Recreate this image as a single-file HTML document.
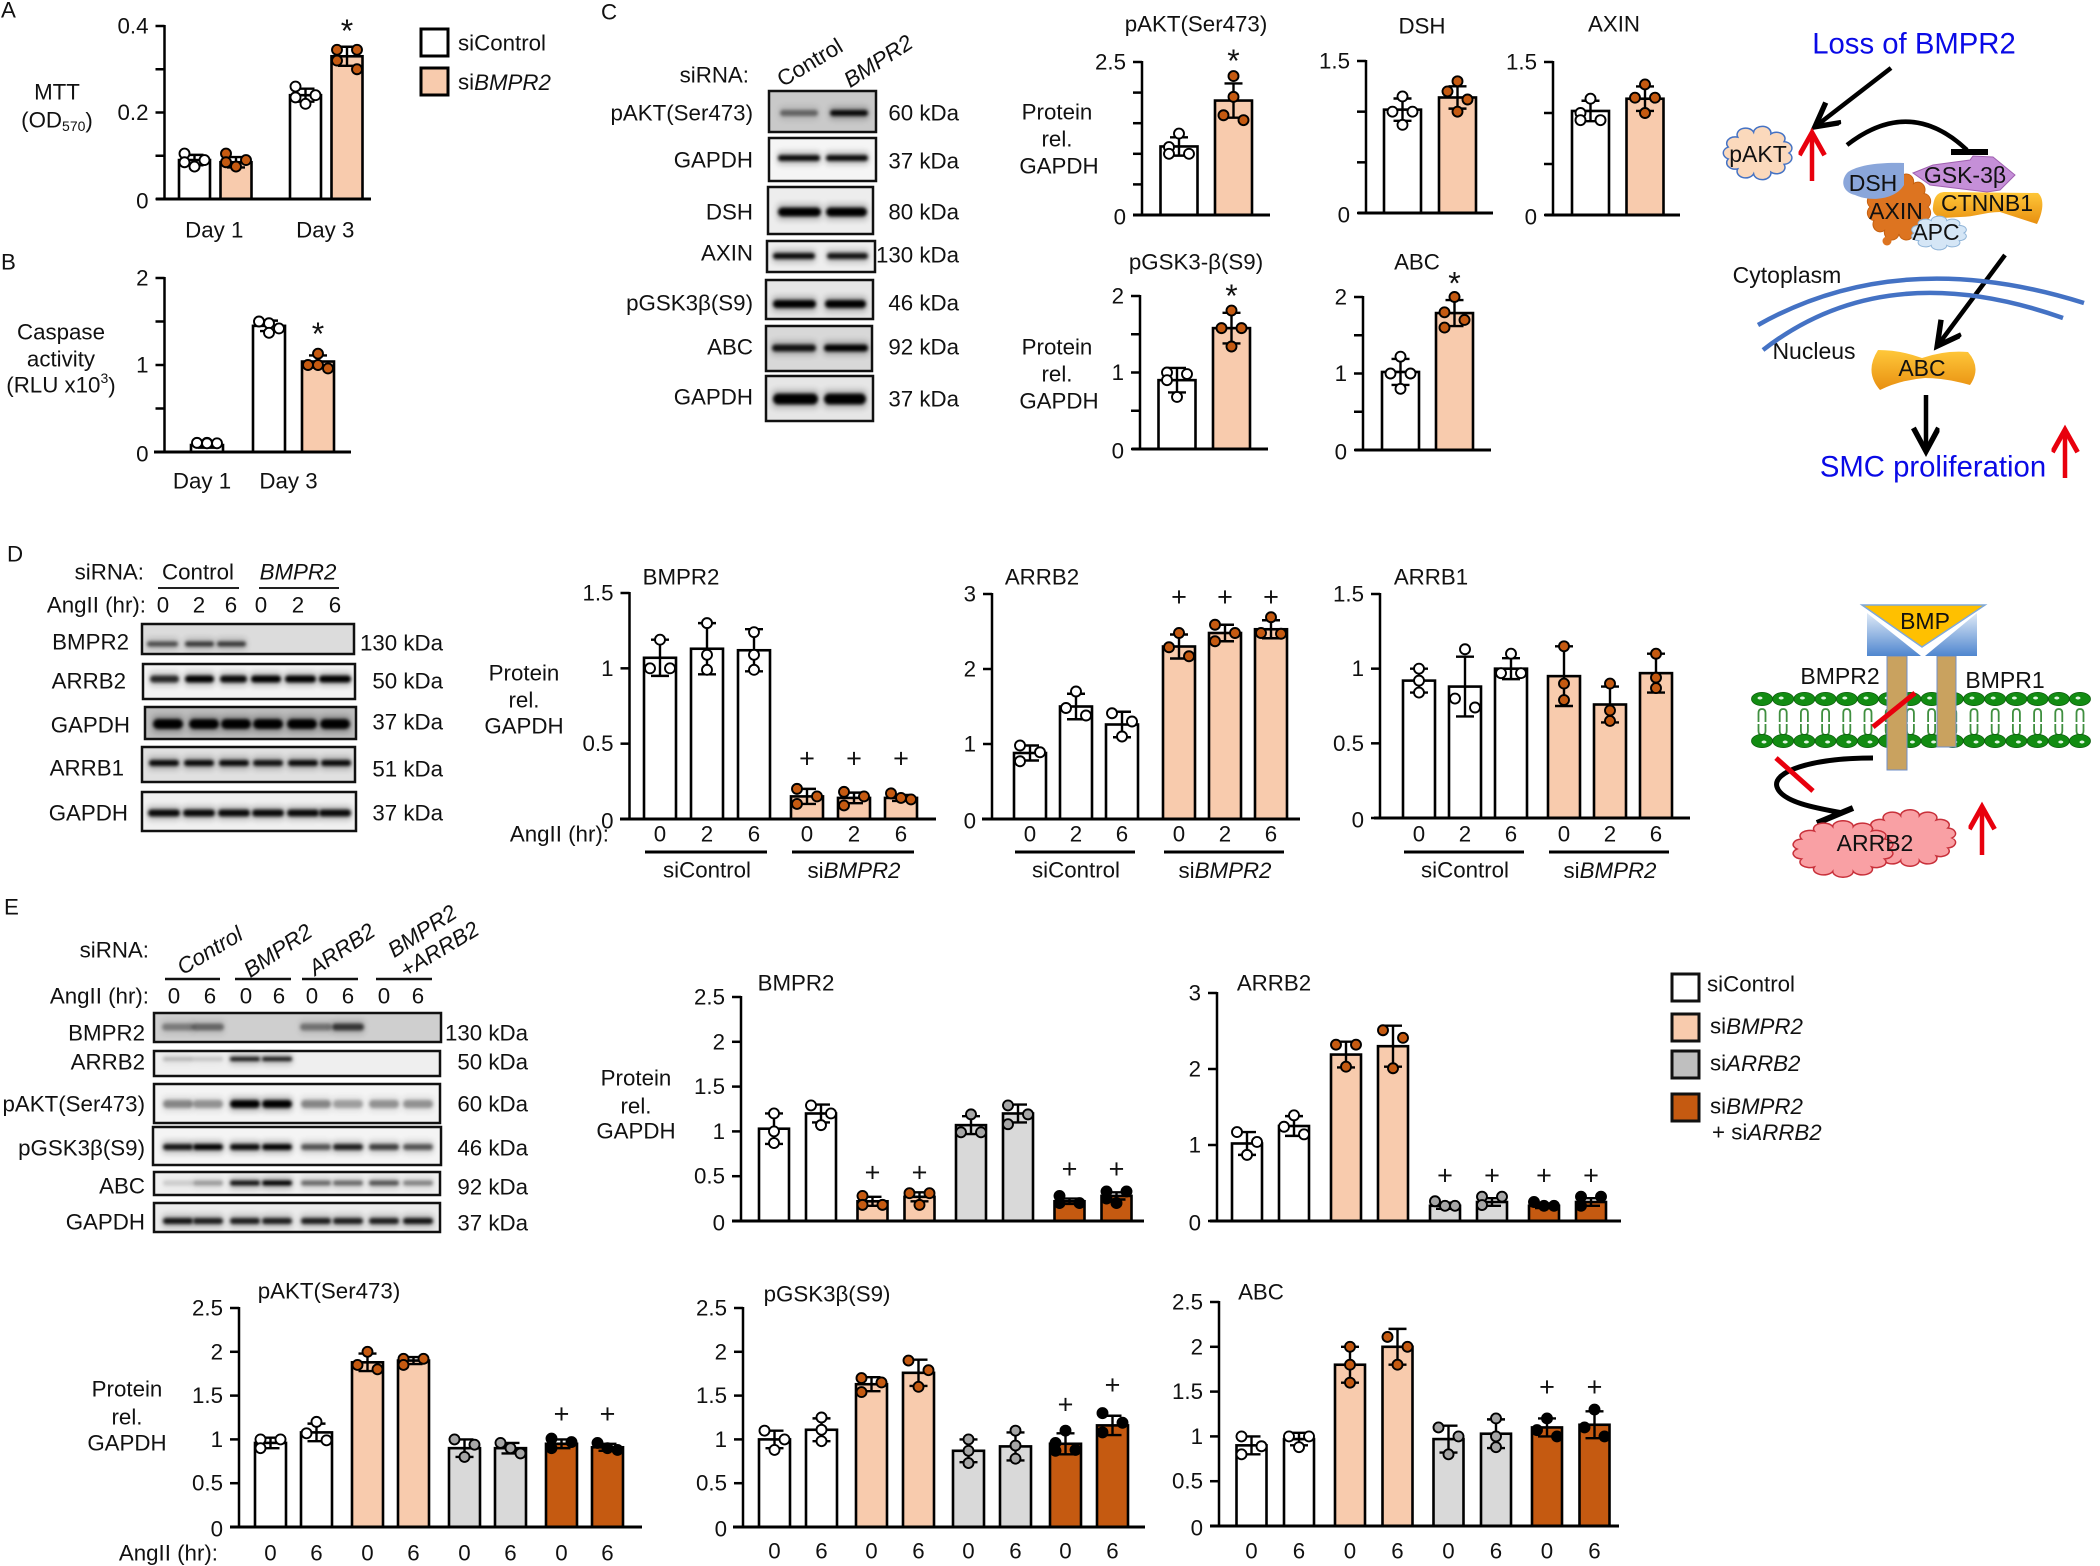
<!DOCTYPE html>
<html lang="en">
<head>
<meta charset="utf-8">
<title>BMPR2 multi-panel figure</title>
<style>
html,body{margin:0;padding:0;background:#fff;}
svg{display:block;}
text{font-family:"Liberation Sans",Arial,sans-serif;font-size:22.3px;fill:#111;dominant-baseline:central;}
.r{text-anchor:end;}
.c{text-anchor:middle;}
.i{font-style:italic;}
.blue{fill:#0a0ae6;font-size:29.3px;}
.d{font-size:23px;}
</style>
</head>
<body>
<svg id="fig" xmlns="http://www.w3.org/2000/svg" width="2100" height="1566" viewBox="0 0 2100 1566">
<defs>
<filter id="blur" x="-20%" y="-150%" width="140%" height="400%"><feGaussianBlur stdDeviation="1.5"></feGaussianBlur></filter>
<filter id="halo" x="-20%" y="-200%" width="140%" height="500%"><feGaussianBlur stdDeviation="3"></feGaussianBlur></filter>
<linearGradient id="gold" x1="0" y1="0" x2="0" y2="1"><stop offset="0" stop-color="#ffc83a"></stop><stop offset="1" stop-color="#e88f10"></stop></linearGradient>
<linearGradient id="bluebox" x1="0" y1="0" x2="0" y2="1"><stop offset="0" stop-color="#dfeaf7"></stop><stop offset="1" stop-color="#4f86cf"></stop></linearGradient>
<marker id="blackHead" markerWidth="7" markerHeight="7" refX="5.2" refY="3" orient="auto"><path d="M0.3,0.2 L5.5,3 L0.3,5.8" fill="none" stroke="#000" stroke-width="1.2"></path></marker>
<marker id="redHead" markerWidth="8" markerHeight="8" refX="5.2" refY="3" orient="auto"><path d="M0.5,0.2 L5.5,3 L0.5,5.8" fill="none" stroke="#e8000d" stroke-width="1.1"></path></marker>
</defs>

<g>
<text x="1" y="10">A</text>
<text x="1" y="262">B</text>
<text x="601" y="12">C</text>
<text x="7" y="554">D</text>
<text x="4" y="907">E</text>
</g>

<g>
<text class="c" x="57" y="92">MTT</text>
<text class="c" x="57" y="120">(OD<tspan font-size="14" dy="6">570</tspan><tspan dy="-6">)</tspan></text>
<rect x="421" y="29" width="27" height="27" fill="#fff" stroke="#000" stroke-width="3"></rect>
<rect x="421" y="68" width="27" height="27" fill="#f8cbad" stroke="#000" stroke-width="3"></rect>
<text x="458" y="43">siControl</text>
<text x="458" y="82">si<tspan class="i">BMPR2</tspan></text>
</g>

<g>
<text class="c" x="61" y="332">Caspase</text>
<text class="c" x="61" y="359">activity</text>
<text class="c" x="61" y="385">(RLU x10<tspan font-size="14" dy="-7">3</tspan><tspan dy="7">)</tspan></text>
</g>

<g id="blots"></g>

<g>
<text class="r" x="749" y="75">siRNA:</text>
<text x="779" y="81" transform="rotate(-31 779 81)">Control</text>
<text class="i" x="846" y="82" transform="rotate(-33 846 82)">BMPR2</text>
<text class="r" x="753" y="113">pAKT(Ser473)</text>
<text class="r" x="753" y="160">GAPDH</text>
<text class="r" x="753" y="212">DSH</text>
<text class="r" x="753" y="253">AXIN</text>
<text class="r" x="753" y="303">pGSK3β(S9)</text>
<text class="r" x="753" y="347">ABC</text>
<text class="r" x="753" y="397">GAPDH</text>
<text class="r" x="959" y="113">60 kDa</text>
<text class="r" x="959" y="161">37 kDa</text>
<text class="r" x="959" y="212">80 kDa</text>
<text class="r" x="959" y="255">130 kDa</text>
<text class="r" x="959" y="303">46 kDa</text>
<text class="r" x="959" y="347">92 kDa</text>
<text class="r" x="959" y="399">37 kDa</text>
<text class="c" x="1057" y="112">Protein</text>
<text class="c" x="1057" y="139">rel.</text>
<text class="c" x="1059" y="166">GAPDH</text>
<text class="c" x="1057" y="347">Protein</text>
<text class="c" x="1057" y="374">rel.</text>
<text class="c" x="1059" y="401">GAPDH</text>
</g>

<g>
<text class="r" x="144" y="572">siRNA:</text>
<text class="c" x="198" y="572">Control</text>
<text class="c i" x="298" y="572">BMPR2</text>
<line x1="158" y1="588" x2="239" y2="588" stroke="#222" stroke-width="2"></line>
<line x1="259" y1="588" x2="339" y2="588" stroke="#222" stroke-width="2"></line>
<text class="r" x="146" y="605">AngII (hr):</text>
<text class="c" x="163" y="605">0</text>
<text class="c" x="199" y="605">2</text>
<text class="c" x="231" y="605">6</text>
<text class="c" x="261" y="605">0</text>
<text class="c" x="298" y="605">2</text>
<text class="c" x="335" y="605">6</text>
<text class="r" x="129" y="642">BMPR2</text>
<text class="r" x="126" y="681">ARRB2</text>
<text class="r" x="130" y="725">GAPDH</text>
<text class="r" x="124" y="768">ARRB1</text>
<text class="r" x="128" y="813">GAPDH</text>
<text class="r" x="443" y="643">130 kDa</text>
<text class="r" x="443" y="681">50 kDa</text>
<text class="r" x="443" y="722">37 kDa</text>
<text class="r" x="443" y="769">51 kDa</text>
<text class="r" x="443" y="813">37 kDa</text>
<text class="c" x="524" y="673">Protein</text>
<text class="c" x="524" y="700">rel.</text>
<text class="c" x="524" y="726">GAPDH</text>
<text class="r" x="609" y="834">AngII (hr):</text>
</g>

<g>
<text class="r" x="149" y="950">siRNA:</text>
<text class="i" x="179" y="969" transform="rotate(-31 179 969)">Control</text>
<text class="i" x="246" y="972" transform="rotate(-34 246 972)">BMPR2</text>
<text class="i" x="311" y="970" transform="rotate(-34 311 970)">ARRB2</text>
<text class="i" x="390" y="952" transform="rotate(-33 390 952)">BMPR2</text>
<text class="i" x="402" y="972" transform="rotate(-31 402 972)">+ARRB2</text>
<line x1="165" y1="979" x2="220" y2="979" stroke="#111" stroke-width="2.5"></line>
<line x1="235" y1="979" x2="291" y2="979" stroke="#111" stroke-width="2.5"></line>
<line x1="302" y1="979" x2="358" y2="979" stroke="#111" stroke-width="2.5"></line>
<line x1="376" y1="979" x2="432" y2="979" stroke="#111" stroke-width="2.5"></line>
<text class="r" x="149" y="996">AngII (hr):</text>
<text class="c" x="174" y="996">0</text>
<text class="c" x="210" y="996">6</text>
<text class="c" x="246" y="996">0</text>
<text class="c" x="279" y="996">6</text>
<text class="c" x="312" y="996">0</text>
<text class="c" x="348" y="996">6</text>
<text class="c" x="384" y="996">0</text>
<text class="c" x="418" y="996">6</text>
<text class="r" x="145" y="1033">BMPR2</text>
<text class="r" x="145" y="1062">ARRB2</text>
<text class="r" x="145" y="1104">pAKT(Ser473)</text>
<text class="r" x="145" y="1148">pGSK3β(S9)</text>
<text class="r" x="145" y="1186">ABC</text>
<text class="r" x="145" y="1222">GAPDH</text>
<text class="r" x="528" y="1033">130 kDa</text>
<text class="r" x="528" y="1062">50 kDa</text>
<text class="r" x="528" y="1104">60 kDa</text>
<text class="r" x="528" y="1148">46 kDa</text>
<text class="r" x="528" y="1187">92 kDa</text>
<text class="r" x="528" y="1223">37 kDa</text>
<text class="c" x="636" y="1078">Protein</text>
<text class="c" x="636" y="1106">rel.</text>
<text class="c" x="636" y="1131">GAPDH</text>
<text class="c" x="127" y="1389">Protein</text>
<text class="c" x="127" y="1417">rel.</text>
<text class="c" x="127" y="1443">GAPDH</text>
<text class="r" x="218" y="1553">AngII (hr):</text>
</g>

<g>
<rect x="1672" y="974" width="27" height="27" fill="#fff" stroke="#111" stroke-width="3"></rect>
<rect x="1672" y="1014" width="27" height="27" fill="#f8cbad" stroke="#111" stroke-width="3"></rect>
<rect x="1672" y="1051" width="27" height="27" fill="#bfbfbf" stroke="#111" stroke-width="3"></rect>
<rect x="1672" y="1094" width="27" height="27" fill="#c55a11" stroke="#111" stroke-width="3"></rect>
<text x="1707" y="984">siControl</text>
<text x="1710" y="1026">si<tspan class="i">BMPR2</tspan></text>
<text x="1710" y="1063">si<tspan class="i">ARRB2</tspan></text>
<text x="1710" y="1106">si<tspan class="i">BMPR2</tspan></text>
<text x="1712" y="1132">+ si<tspan class="i">ARRB2</tspan></text>
</g>

<g id="charts"></g>

<g>
<text class="c blue" x="1914" y="44">Loss of BMPR2</text>
<line x1="1891" y1="68" x2="1816" y2="126" stroke="#000" stroke-width="4.5" marker-end="url(#blackHead)"></line>
<path id="paktCloud" fill="#fbd9bc" stroke="#4472c4" stroke-width="1.5"></path>
<text class="c d" x="1758" y="154">pAKT</text>
<line x1="1812" y1="181" x2="1812" y2="134" stroke="#e8000d" stroke-width="4.5" marker-end="url(#redHead)"></line>
<path d="M1847,145 Q1910,96 1967,150" fill="none" stroke="#000" stroke-width="4.5"></path>
<line x1="1951" y1="152" x2="1988" y2="152" stroke="#000" stroke-width="6"></line>
<path id="axinCloud" fill="#dd7420" stroke="#c5600f" stroke-width="1"></path>
<circle cx="1887" cy="241" r="4.5" fill="#dd7420"></circle>
<path d="M1904,163 C1880,162 1858,165 1848,172 C1840,180 1842,192 1855,195 C1870,202 1895,200 1904,185 Z" fill="#8aa6da"></path>
<path d="M1913,173 L1933,165 L1970,160 L1973,156 L1993,157 L2015,175 L2000,190 L1987,192 L1930,185 Z" fill="#c58fd8" stroke="#a060b0" stroke-width="1"></path>
<path d="M1933,207 C1934,196 1938,192 1945,192 L2038,193 C2044,198 2044,210 2037,224 L2000,212 C1985,212 1975,217 1960,217 L1942,218 C1935,216 1932,212 1933,207 Z" fill="url(#gold)"></path>
<path id="apcCloud" fill="#d5e6f6" stroke="#8fb4d8" stroke-width="1"></path>
<text class="c d" x="1873" y="183">DSH</text>
<text class="c d" x="1965" y="175">GSK-3β</text>
<text class="c d" x="1896" y="211">AXIN</text>
<text class="c d" x="1987" y="203">CTNNB1</text>
<text class="c d" x="1936" y="232">APC</text>
<line x1="2005" y1="255" x2="1938" y2="345" stroke="#000" stroke-width="4.5" marker-end="url(#blackHead)"></line>
<text class="c d" x="1787" y="275">Cytoplasm</text>
<text class="c d" x="1814" y="351">Nucleus</text>
<path d="M1758,325 Q1900,245 2084,303" fill="none" stroke="#4472c4" stroke-width="4.5"></path>
<path d="M1763,350 Q1885,255 2063,318" fill="none" stroke="#4472c4" stroke-width="4.5"></path>
<path d="M1878,350 Q1900,350 1922,358 Q1945,350 1968,352 Q1982,368 1970,385 Q1945,378 1925,378 Q1900,380 1880,390 Q1864,372 1878,350 Z" fill="url(#gold)"></path>
<text class="c d" x="1922" y="368">ABC</text>
<line x1="1926" y1="395" x2="1926" y2="450" stroke="#000" stroke-width="4.5" marker-end="url(#blackHead)"></line>
<text class="c blue" x="1933" y="467">SMC proliferation</text>
<line x1="2065" y1="478" x2="2065" y2="431" stroke="#e8000d" stroke-width="4.5" marker-end="url(#redHead)"></line>
</g>

<g>
<g id="membrane"></g>
<rect x="1887" y="656" width="20" height="114" fill="#c9a25f" stroke="#6f8fc8" stroke-width="1"></rect>
<rect x="1937" y="656" width="19" height="91" fill="#c9a25f" stroke="#6f8fc8" stroke-width="1"></rect>
<polygon points="1867,613 1867,656 1921,656" fill="url(#bluebox)"></polygon>
<polygon points="1977,613 1977,656 1925,656" fill="url(#bluebox)"></polygon>
<polygon points="1862,605 1985,605 1922,647" fill="#ffc000" stroke="#7fa8d8" stroke-width="1.5"></polygon>
<text class="c d" x="1925" y="621">BMP</text>
<text class="c d" x="1840" y="676">BMPR2</text>
<text class="c d" x="2005" y="680">BMPR1</text>
<line x1="1873" y1="727" x2="1915" y2="693" stroke="#e8000d" stroke-width="5"></line>
<path d="M1873,758 C1810,758 1772,772 1777,787 C1782,802 1815,808 1843,813" fill="none" stroke="#000" stroke-width="5"></path>
<line x1="1817" y1="823" x2="1853" y2="808" stroke="#000" stroke-width="6"></line>
<line x1="1776" y1="758" x2="1813" y2="791" stroke="#e8000d" stroke-width="5"></line>
<path id="arrbCloudB" fill="#f9a0a4" stroke="#c8303a" stroke-width="1.5"></path>
<path id="arrbCloudA" fill="#f9a0a4" stroke="#c8303a" stroke-width="1.5"></path>
<text class="c d" x="1875" y="843">ARRB2</text>
<line x1="1982" y1="855" x2="1982" y2="808" stroke="#e8000d" stroke-width="4.5" marker-end="url(#redHead)"></line>
</g>

<script>
/* ---------- chart data ---------- */
const series2 = ['siControl', 'siBMPR2'];
const seriesA = ['siControl', 'siBMPR2', 'siControl', 'siBMPR2'];
const seriesB = ['siControl', 'siControl', 'siBMPR2'];
const series6 = ['siControl', 'siControl', 'siControl', 'siBMPR2', 'siBMPR2', 'siBMPR2'];
const series8 = ['siControl', 'siControl', 'siBMPR2', 'siBMPR2', 'siARRB2', 'siARRB2', 'combo', 'combo'];
const hours3 = ['0', '2', '6', '0', '2', '6'];
const hours2 = ['0', '6', '0', '6', '0', '6', '0', '6'];
const dayLabels = ['Day 1', 'Day 3'];
const dGroupLabels = ['siControl', 'siBMPR2'];

const aTicks = [0, 0.1, 0.2, 0.3, 0.4];
const aTickLabels = ['0', '', '0.2', '', '0.4'];
const aValues = [0.09, 0.085, 0.24, 0.33];
const aErrors = [0.012, 0.012, 0.015, 0.022];
const aPoints = [[0.075, 0.085, 0.09, 0.105], [0.075, 0.085, 0.09, 0.105], [0.22, 0.235, 0.24, 0.26], [0.3, 0.32, 0.345, 0.345]];
const aMarks = ['', '', '', '*'];
const aMarkLevels = [0, 0, 0, 0.398];

const bTicks = [0, 0.5, 1, 1.5, 2];
const bTickLabels = ['0', '', '1', '', '2'];
const bValues = [0.08, 1.45, 1.04];
const bErrors = [0.03, 0.06, 0.07];
const bPoints = [[0.1, 0.1, 0.105, 0.105], [1.37, 1.42, 1.48, 1.5], [0.96, 1.0, 1.0, 1.13]];
const bMarks = ['', '', '*'];
const bMarkLevels = [0, 0, 1.4];

const ticks25 = [0, 0.5, 1, 1.5, 2, 2.5];
const ticks25Sparse = ['0', '', '', '', '', '2.5'];
const ticks25Full = ['0', '0.5', '1', '1.5', '2', '2.5'];
const ticks15 = [0, 0.5, 1, 1.5];
const ticks15Sparse = ['0', '', '', '1.5'];
const ticks15Full = ['0', '0.5', '1', '1.5'];
const ticks2 = [0, 0.5, 1, 1.5, 2];
const ticks2Labels = ['0', '', '1', '', '2'];
const ticks3 = [0, 1, 2, 3];
const ticks3Labels = ['0', '1', '2', '3'];

const cPaktValues = [1.12, 1.87];
const cPaktErrors = [0.15, 0.28];
const cPaktPoints = [[1.0, 1.0, 1.11, 1.33], [1.55, 1.63, 1.93, 2.27]];
const cPaktMarks = ['', '*'];
const cPaktMarkLevels = [0, 2.58];

const cDshValues = [1.02, 1.14];
const cDshErrors = [0.11, 0.11];
const cDshPoints = [[0.87, 1.0, 1.0, 1.15], [1.0, 1.12, 1.2, 1.3]];

const cAxinValues = [1.02, 1.14];
const cAxinErrors = [0.1, 0.12];
const cAxinPoints = [[0.93, 0.93, 1.0, 1.14], [1.0, 1.15, 1.15, 1.28]];

const cGskValues = [0.9, 1.58];
const cGskErrors = [0.16, 0.2];
const cGskPoints = [[0.68, 0.9, 0.98, 1.0], [1.34, 1.58, 1.58, 1.81]];
const cGskMarks = ['', '*'];
const cGskMarkLevels = [0, 2.05];

const cAbcValues = [1.02, 1.79];
const cAbcErrors = [0.17, 0.17];
const cAbcPoints = [[0.8, 1.0, 1.0, 1.22], [1.6, 1.7, 1.8, 2.0]];
const cAbcMarks = ['', '*'];
const cAbcMarkLevels = [0, 2.23];

const dBmpr2Values = [1.07, 1.13, 1.12, 0.15, 0.14, 0.14];
const dBmpr2Errors = [0.12, 0.17, 0.14, 0.05, 0.035, 0.02];
const dBmpr2Points = [[1.0, 1.0, 1.19], [0.99, 1.09, 1.3], [0.99, 1.09, 1.24], [0.1, 0.15, 0.2], [0.09, 0.15, 0.18], [0.13, 0.14, 0.17]];
const dBmpr2Marks = ['', '', '', '+', '+', '+'];
const dBmpr2MarkLevels = [0, 0, 0, 0.4, 0.4, 0.4];

const dArrb2Values = [0.88, 1.5, 1.26, 2.3, 2.48, 2.53];
const dArrb2Errors = [0.1, 0.17, 0.17, 0.16, 0.11, 0.12];
const dArrb2Points = [[0.77, 0.89, 0.98], [1.38, 1.48, 1.7], [1.1, 1.3, 1.41], [2.17, 2.29, 2.48], [2.37, 2.48, 2.59], [2.47, 2.48, 2.69]];
const dArrb2Marks = ['', '', '', '+', '+', '+'];
const dArrb2MarkLevels = [0, 0, 0, 2.96, 2.96, 2.96];

const dArrb1Values = [0.92, 0.88, 1.0, 0.95, 0.76, 0.97];
const dArrb1Errors = [0.08, 0.2, 0.07, 0.2, 0.12, 0.13];
const dArrb1Points = [[0.84, 0.92, 1.0], [0.74, 0.8, 1.13], [0.97, 0.97, 1.1], [0.79, 0.9, 1.15], [0.65, 0.72, 0.9], [0.87, 0.94, 1.1]];

const eBmpr2Values = [1.03, 1.2, 0.22, 0.27, 1.07, 1.2, 0.22, 0.28];
const eBmpr2Errors = [0.17, 0.1, 0.05, 0.05, 0.1, 0.1, 0.03, 0.04];
const eBmpr2Points = [[0.87, 1.0, 1.2], [1.07, 1.2, 1.29], [0.18, 0.18, 0.28], [0.18, 0.31, 0.31], [0.99, 0.99, 1.19], [1.08, 1.19, 1.29], [0.2, 0.2, 0.28], [0.2, 0.25, 0.33, 0.33]];
const eBmpr2Marks = ['', '', '+', '+', '', '', '+', '+'];
const eBmpr2MarkLevels = [0, 0, 0.54, 0.54, 0, 0, 0.58, 0.58];

const eArrb2Values = [1.02, 1.25, 2.19, 2.3, 0.2, 0.25, 0.2, 0.25];
const eArrb2Errors = [0.15, 0.13, 0.17, 0.27, 0.04, 0.05, 0.03, 0.05];
const eArrb2Points = [[0.87, 1.04, 1.17], [1.14, 1.24, 1.39], [2.03, 2.32, 2.32], [2.01, 2.41, 2.51], [0.2, 0.2, 0.26], [0.21, 0.32, 0.32], [0.2, 0.2, 0.25], [0.2, 0.32, 0.32]];
const eArrb2Marks = ['', '', '', '', '+', '+', '+', '+'];
const eArrb2MarkLevels = [0, 0, 0, 0, 0.6, 0.6, 0.6, 0.6];

const ePaktValues = [0.96, 1.08, 1.88, 1.9, 0.9, 0.9, 0.95, 0.91];
const ePaktErrors = [0.06, 0.1, 0.1, 0.04, 0.1, 0.06, 0.05, 0.04];
const ePaktPoints = [[0.9, 1.0, 1.0], [0.99, 1.07, 1.2], [1.8, 1.85, 2.0], [1.85, 1.92, 1.92], [0.8, 0.94, 1.0], [0.84, 0.9, 0.96], [0.9, 0.97, 1.01], [0.88, 0.9, 0.96]];
const ePaktMarks = ['', '', '', '', '', '', '+', '+'];
const ePaktMarkLevels = [0, 0, 0, 0, 0, 0, 1.29, 1.29];

const eGskValues = [1.0, 1.11, 1.63, 1.76, 0.87, 0.92, 0.95, 1.16];
const eGskErrors = [0.1, 0.13, 0.08, 0.15, 0.13, 0.16, 0.12, 0.11];
const eGskPoints = [[0.88, 1.0, 1.1], [0.98, 1.11, 1.25], [1.54, 1.65, 1.7], [1.6, 1.79, 1.9], [0.73, 0.87, 1.0], [0.78, 0.93, 1.1], [0.87, 0.88, 0.96, 1.1], [1.08, 1.19, 1.3]];
const eGskMarks = ['', '', '', '', '', '', '+', '+'];
const eGskMarkLevels = [0, 0, 0, 0, 0, 0, 1.4, 1.62];

const eAbcValues = [0.9, 0.97, 1.8, 2.0, 0.97, 1.03, 1.1, 1.13];
const eAbcErrors = [0.1, 0.07, 0.2, 0.2, 0.15, 0.16, 0.1, 0.15];
const eAbcPoints = [[0.8, 0.89, 1.0], [0.88, 1.0, 1.0], [1.6, 1.8, 2.0], [1.8, 2.0, 2.11], [0.8, 1.0, 1.1], [0.88, 1.0, 1.2], [1.0, 1.07, 1.2], [1.0, 1.1, 1.3]];
const eAbcMarks = ['', '', '', '', '', '', '+', '+'];
const eAbcMarkLevels = [0, 0, 0, 0, 0, 0, 1.55, 1.55];

/* ---------- drawing ---------- */
const NS = 'http://www.w3.org/2000/svg';
const chartsRoot = document.getElementById('charts');
const blotsRoot = document.getElementById('blots');
const seriesStyle = {
  siControl: {fill: '#ffffff', point: '#ffffff'},
  siBMPR2: {fill: '#f8cbad', point: '#c55a11'},
  siARRB2: {fill: '#d9d9d9', point: '#a6a6a6'},
  combo: {fill: '#c55a11', point: '#000000'}
};

function mk(parent, tag, attrs) {
  const n = document.createElementNS(NS, tag);
  for (const k in attrs) n.setAttribute(k, attrs[k]);
  parent.appendChild(n);
  return n;
}

/* symmetric swarm: close values are spread sideways around the bar centre */
function swarmOffsets(vals, yFn) {
  const items = vals.map(v => ({y: yFn(v), dx: 0})).sort((a, b) => a.y - b.y);
  const d = 10;
  let start = 0;
  for (let i = 1; i <= items.length; i++) {
    const split = i === items.length || items[i].y - items[i - 1].y > 10 || i - start >= 3;
    if (split) {
      const n = i - start;
      if (n === 2) {
        items[start].dx = -d;
        items[start + 1].dx = d;
      } else if (n === 3) {
        const spread = Math.max(items[start + 1].y - items[start].y, items[start + 2].y - items[start + 1].y);
        const pattern = spread >= 6 ? [-d, d, -d] : [-d, 0, d];
        for (let j = 0; j < 3; j++) items[start + j].dx = pattern[j];
      }
      start = i;
    }
  }
  return items;
}

function drawChart(c) {
  const g = mk(chartsRoot, 'g', {});
  
  
  const yScale = v => c.y0 - v / c.yMax * (c.y0 - c.top);
  const groupOf = i => { let s = 0; for (let k = 0; k < c.groups.length; k++) { s += c.groups[k]; if (i < s) return k; } return c.groups.length - 1; };
  const xScale = i => c.cx0 + i * c.step + groupOf(i) * c.gap;

  const yAxis = mk(g, 'line', {x1: c.axisX, x2: c.axisX, y1: c.top - 1, y2: c.y0, stroke: '#000', 'stroke-width': 2.5});
  
  

  c.ticks.forEach((t, i) => {
    const y = yScale(t);
    const tick = mk(g, 'line', {x1: c.axisX - 9, x2: c.axisX, y1: y, y2: y, stroke: '#000', 'stroke-width': 2.5});
    
    
    if (c.tickLabels[i]) {
      const lab = mk(g, 'text', {x: c.axisX - 16, y: y + (t === 0 ? 2 : 0), class: 'r'});
      lab.textContent = c.tickLabels[i];
      
      
    }
  });

  c.values.forEach((v, i) => {
    const cx = xScale(i);
    const st = seriesStyle[c.series[i]];
    const bar = mk(g, 'rect', {x: cx - c.barW / 2, y: yScale(v), width: c.barW, height: c.y0 - yScale(v), fill: st.fill, stroke: '#000', 'stroke-width': 2.6});
    
    
    const hi = yScale(v + c.errors[i]);
    const lo = yScale(Math.max(0, v - c.errors[i]));
    const err = mk(g, 'path', {d: 'M' + cx + ',' + hi + 'V' + lo + 'M' + (cx - 9) + ',' + hi + 'H' + (cx + 9) + 'M' + (cx - 9) + ',' + lo + 'H' + (cx + 9), fill: 'none', stroke: '#000', 'stroke-width': 2.4});
    
    
    swarmOffsets(c.points[i], yScale).forEach(p => {
      const dot = mk(g, 'circle', {cx: cx + p.dx, cy: p.y, r: 5, fill: st.point, stroke: '#000', 'stroke-width': 1.9});
      
      
    });
    if (c.marks && c.marks[i]) {
      const star = c.marks[i] === '*';
      const m = mk(g, 'text', {x: cx, y: yScale(c.markLevels[i]) + (star ? 4 : 0), class: 'c', style: 'font-size:' + (star ? 32 : 27) + 'px'});
      m.textContent = c.marks[i];
      
      
    }
  });

  const base = mk(g, 'line', {x1: c.left, x2: c.right, y1: c.y0, y2: c.y0, stroke: '#000', 'stroke-width': 3});
  
  

  if (c.title) {
    const t = mk(g, 'text', {x: c.titleX, y: c.titleY, class: 'c'});
    t.textContent = c.title;
    
    
  }
  if (c.xLabels) {
    c.xLabels.forEach((lab, i) => {
      const t = mk(g, 'text', {x: xScale(i), y: c.xLabelY, class: 'c'});
      t.textContent = lab;
      
      
    });
  }
  if (c.groupLabels) {
    let startIdx = 0;
    c.groupLabels.forEach((lab, k) => {
      const endIdx = startIdx + c.groups[k] - 1;
      const mid = (xScale(startIdx) + xScale(endIdx)) / 2;
      if (c.groupRuleY) {
        const rule = mk(g, 'line', {x1: xScale(startIdx) - 15, x2: xScale(endIdx) + 13, y1: c.groupRuleY, y2: c.groupRuleY, stroke: '#000', 'stroke-width': 3});
        
        
      }
      const t = mk(g, 'text', {x: mid + (c.groupDx || 0), y: c.groupY, class: 'c'});
      if (lab === 'siBMPR2') {
        const a = mk(t, 'tspan', {});
        a.textContent = 'si';
        const b = mk(t, 'tspan', {class: 'i'});
        b.textContent = 'BMPR2';
      } else {
        t.textContent = lab;
      }
      
      
      startIdx = endIdx + 1;
    });
  }
}

drawChart({name: 'mtt-chart', axisX: 164.5, top: 26, y0: 199, yMax: 0.4, ticks: aTicks, tickLabels: aTickLabels, left: 156, right: 371, cx0: 194.5, step: 41.5, groups: [2, 2], gap: 28, barW: 31, series: seriesA, values: aValues, errors: aErrors, points: aPoints, marks: aMarks, markLevels: aMarkLevels, groupLabels: dayLabels, groupY: 230, groupDx: -1});
drawChart({name: 'caspase-chart', axisX: 164.5, top: 278, y0: 452, yMax: 2, ticks: bTicks, tickLabels: bTickLabels, left: 154, right: 351, cx0: 207, step: 49, groups: [1, 2], gap: 13, barW: 32, series: seriesB, values: bValues, errors: bErrors, points: bPoints, marks: bMarks, markLevels: bMarkLevels, groupLabels: dayLabels, groupY: 481, groupDx: -5});

drawChart({name: 'c-pakt-chart', title: 'pAKT(Ser473)', titleX: 1196, titleY: 24, axisX: 1142, top: 62, y0: 215, yMax: 2.5, ticks: ticks25, tickLabels: ticks25Sparse, left: 1133, right: 1270, cx0: 1179, step: 54.5, groups: [2], gap: 0, barW: 37, series: series2, values: cPaktValues, errors: cPaktErrors, points: cPaktPoints, marks: cPaktMarks, markLevels: cPaktMarkLevels});
drawChart({name: 'c-dsh-chart', title: 'DSH', titleX: 1422, titleY: 26, axisX: 1366, top: 61, y0: 213, yMax: 1.5, ticks: ticks15, tickLabels: ticks15Sparse, left: 1358, right: 1493, cx0: 1402.5, step: 55, groups: [2], gap: 0, barW: 37, series: series2, values: cDshValues, errors: cDshErrors, points: cDshPoints});
drawChart({name: 'c-axin-chart', title: 'AXIN', titleX: 1614, titleY: 24, axisX: 1553, top: 62, y0: 215, yMax: 1.5, ticks: ticks15, tickLabels: ticks15Sparse, left: 1545, right: 1680, cx0: 1590.5, step: 54.5, groups: [2], gap: 0, barW: 37, series: series2, values: cAxinValues, errors: cAxinErrors, points: cAxinPoints});
drawChart({name: 'c-pgsk-chart', title: 'pGSK3-β(S9)', titleX: 1196, titleY: 262, axisX: 1140, top: 296, y0: 449, yMax: 2, ticks: ticks2, tickLabels: ticks2Labels, left: 1132, right: 1268, cx0: 1177, step: 54.5, groups: [2], gap: 0, barW: 37, series: series2, values: cGskValues, errors: cGskErrors, points: cGskPoints, marks: cGskMarks, markLevels: cGskMarkLevels});
drawChart({name: 'c-abc-chart', title: 'ABC', titleX: 1417, titleY: 262, axisX: 1363, top: 297, y0: 450, yMax: 2, ticks: ticks2, tickLabels: ticks2Labels, left: 1355, right: 1491, cx0: 1400.5, step: 54, groups: [2], gap: 0, barW: 37, series: series2, values: cAbcValues, errors: cAbcErrors, points: cAbcPoints, marks: cAbcMarks, markLevels: cAbcMarkLevels});

drawChart({name: 'd-bmpr2-chart', title: 'BMPR2', titleX: 681, titleY: 577, axisX: 629.5, top: 593, y0: 819, yMax: 1.5, ticks: ticks15, tickLabels: ticks15Full, left: 620, right: 936, cx0: 660, step: 47, groups: [3, 3], gap: 6, barW: 32, series: series6, values: dBmpr2Values, errors: dBmpr2Errors, points: dBmpr2Points, marks: dBmpr2Marks, markLevels: dBmpr2MarkLevels, xLabels: hours3, xLabelY: 834, groupLabels: dGroupLabels, groupY: 870, groupRuleY: 852});
drawChart({name: 'd-arrb2-chart', title: 'ARRB2', titleX: 1042, titleY: 577, axisX: 992, top: 594, y0: 819, yMax: 3, ticks: ticks3, tickLabels: ticks3Labels, left: 982, right: 1300, cx0: 1030, step: 46, groups: [3, 3], gap: 11, barW: 32, series: series6, values: dArrb2Values, errors: dArrb2Errors, points: dArrb2Points, marks: dArrb2Marks, markLevels: dArrb2MarkLevels, xLabels: hours3, xLabelY: 834, groupLabels: dGroupLabels, groupY: 870, groupRuleY: 852});
drawChart({name: 'd-arrb1-chart', title: 'ARRB1', titleX: 1431, titleY: 577, axisX: 1380, top: 594, y0: 818, yMax: 1.5, ticks: ticks15, tickLabels: ticks15Full, left: 1374, right: 1690, cx0: 1419, step: 46, groups: [3, 3], gap: 7, barW: 32, series: series6, values: dArrb1Values, errors: dArrb1Errors, points: dArrb1Points, xLabels: hours3, xLabelY: 834, groupLabels: dGroupLabels, groupY: 870, groupRuleY: 852});

drawChart({name: 'e-bmpr2-chart', title: 'BMPR2', titleX: 796, titleY: 983, axisX: 741, top: 997, y0: 1221, yMax: 2.5, ticks: ticks25, tickLabels: ticks25Full, left: 732, right: 1144, cx0: 774, step: 47, groups: [2, 2, 2, 2], gap: 4.5, barW: 30, series: series8, values: eBmpr2Values, errors: eBmpr2Errors, points: eBmpr2Points, marks: eBmpr2Marks, markLevels: eBmpr2MarkLevels});
drawChart({name: 'e-arrb2-chart', title: 'ARRB2', titleX: 1274, titleY: 983, axisX: 1217, top: 993, y0: 1221, yMax: 3, ticks: ticks3, tickLabels: ticks3Labels, left: 1210, right: 1621, cx0: 1247, step: 47, groups: [2, 2, 2, 2], gap: 5, barW: 30, series: series8, values: eArrb2Values, errors: eArrb2Errors, points: eArrb2Points, marks: eArrb2Marks, markLevels: eArrb2MarkLevels});
drawChart({name: 'e-pakt-chart', title: 'pAKT(Ser473)', titleX: 329, titleY: 1291, axisX: 239, top: 1308, y0: 1527, yMax: 2.5, ticks: ticks25, tickLabels: ticks25Full, left: 230, right: 642, cx0: 270.5, step: 46, groups: [2, 2, 2, 2], gap: 5, barW: 31, series: series8, values: ePaktValues, errors: ePaktErrors, points: ePaktPoints, marks: ePaktMarks, markLevels: ePaktMarkLevels, xLabels: hours2, xLabelY: 1553});
drawChart({name: 'e-pgsk-chart', title: 'pGSK3β(S9)', titleX: 827, titleY: 1294, axisX: 743, top: 1308, y0: 1527, yMax: 2.5, ticks: ticks25, tickLabels: ticks25Full, left: 733, right: 1145, cx0: 774.5, step: 47, groups: [2, 2, 2, 2], gap: 3, barW: 31, series: series8, values: eGskValues, errors: eGskErrors, points: eGskPoints, marks: eGskMarks, markLevels: eGskMarkLevels, xLabels: hours2, xLabelY: 1551});
drawChart({name: 'e-abc-chart', title: 'ABC', titleX: 1261, titleY: 1292, axisX: 1219, top: 1302, y0: 1526, yMax: 2.5, ticks: ticks25, tickLabels: ticks25Full, left: 1210, right: 1619, cx0: 1251.5, step: 47.5, groups: [2, 2, 2, 2], gap: 3.5, barW: 30, series: series8, values: eAbcValues, errors: eAbcErrors, points: eAbcPoints, marks: eAbcMarks, markLevels: eAbcMarkLevels, xLabels: hours2, xLabelY: 1551});

/* ---------- western blot images ---------- */
function drawBlot(name, x, y, w, h, bg, bandY, bandH, lanes) {
  const g = mk(blotsRoot, 'g', {});
  
  
  mk(g, 'rect', {x: x, y: y, width: w, height: h, fill: bg});
  lanes.forEach(l => {
    if (l[2] > 0) {
      mk(g, 'rect', {x: l[0] - 1, y: Math.max(y + 2, bandY - bandH / 2 - 4), width: l[1] - l[0] + 2, height: bandH + 8, rx: 4, fill: '#000', opacity: l[2] * 0.22, filter: 'url(#halo)'});
      mk(g, 'rect', {x: l[0], y: bandY - bandH / 2, width: l[1] - l[0], height: bandH, rx: bandH / 2, fill: '#000', opacity: l[2], filter: 'url(#blur)'});
    }
  });
  mk(g, 'rect', {x: x, y: y, width: w, height: h, fill: 'none', stroke: '#111', 'stroke-width': 2.5});
}
function lanesOf(centers, half, ops) { return centers.map((c, i) => [c - half, c + half, ops[i]]); }

drawBlot('c-pakt-blot', 769, 91, 107, 41, '#c9c9c9', 113, 6, [[780, 818, 0.45], [830, 868, 0.95]]);
drawBlot('c-gapdh-blot-1', 769, 138, 107, 43, '#f5f5f5', 158, 6, [[778, 820, 0.95], [826, 868, 0.95]]);
drawBlot('c-dsh-blot', 768, 187, 105, 47, '#ededed', 212, 9, [[778, 821, 1], [826, 867, 1]]);
drawBlot('c-axin-blot', 767, 241, 108, 31, '#eeeeee', 256, 6, [[773, 815, 0.95], [827, 868, 0.9]]);
drawBlot('c-pgsk-blot', 766, 280, 107, 39, '#e6e6e6', 304, 8, [[773, 816, 1], [825, 866, 1]]);
drawBlot('c-abc-blot', 766, 326, 106, 45, '#d8d8d8', 348, 7, [[772, 816, 0.9], [824, 868, 1]]);
drawBlot('c-gapdh-blot-2', 766, 376, 107, 45, '#e6e6e6', 399, 11, [[773, 818, 1], [824, 866, 1]]);

drawBlot('d-bmpr2-blot', 142, 624, 212, 30, '#dcdcdc', 644, 5, [[147, 178, 0.6], [185, 214, 0.7], [217, 246, 0.7]]);
drawBlot('d-arrb2-blot', 143, 664, 212, 35, '#f3f3f3', 679, 7, [[150, 179, 0.8], [185, 214, 1], [220, 247, 0.95], [251, 281, 1], [285, 316, 1], [319, 351, 1]]);
drawBlot('d-gapdh-blot-1', 145, 707, 211, 32, '#bdbdbd', 724, 10, lanesOf([168, 204, 236, 268, 302, 335], 15, [1, 1, 1, 1, 1, 1]));
drawBlot('d-arrb1-blot', 142, 747, 213, 35, '#e0e0e0', 763, 6, lanesOf([164, 199, 234, 268, 303, 336], 15, [0.95, 0.95, 0.95, 0.9, 0.95, 0.95]));
drawBlot('d-gapdh-blot-2', 142, 792, 214, 39, '#f0f0f0', 813, 7, lanesOf([164, 199, 234, 268, 303, 335], 16, [0.95, 0.95, 0.95, 0.95, 0.95, 0.95]));

const eLanes = [178, 208, 245, 277, 316, 348, 384, 418];
drawBlot('e-bmpr2-blot', 154, 1013, 287, 29, '#cfcfcf', 1027, 7, lanesOf(eLanes, 16, [0.35, 0.45, 0, 0, 0.4, 0.7, 0, 0]));
drawBlot('e-arrb2-blot', 154, 1051, 286, 25, '#efefef', 1059, 4, lanesOf(eLanes, 15, [0.2, 0.15, 0.9, 0.9, 0, 0, 0, 0]));
drawBlot('e-pakt-blot', 154, 1084, 286, 39, '#f4f4f4', 1104, 8, lanesOf(eLanes, 15, [0.4, 0.35, 1, 1, 0.4, 0.3, 0.35, 0.35]));
drawBlot('e-pgsk-blot', 153, 1127, 288, 38, '#f4f4f4', 1147, 6, lanesOf(eLanes, 15, [0.9, 1, 0.95, 1, 0.6, 0.85, 0.7, 0.6]));
drawBlot('e-abc-blot', 154, 1172, 286, 23, '#f0f0f0', 1183, 5, lanesOf(eLanes, 15, [0.12, 0.3, 0.9, 1, 0.5, 0.5, 0.6, 0.4]));
drawBlot('e-gapdh-blot', 154, 1203, 286, 29, '#ebebeb', 1221, 6, lanesOf(eLanes, 15, [0.9, 0.85, 0.85, 0.85, 0.85, 0.85, 0.85, 0.9]));

/* ---------- diagram helpers ---------- */
function cloud(id, cx, cy, rx, ry, n) {
  let d = '';
  for (let i = 0; i <= n; i++) {
    const a = i / n * Math.PI * 2;
    const px = cx + rx * Math.cos(a), py = cy + ry * Math.sin(a);
    d += i === 0 ? 'M' + px + ',' + py : 'A' + (rx * 3 / n) + ',' + (ry * 3.4 / n) + ' 0 0 1 ' + px + ',' + py;
  }
  document.getElementById(id).setAttribute('d', d + 'Z');
}
cloud('paktCloud', 1758, 153, 31, 21, 11);
cloud('axinCloud', 1899, 207, 29, 27, 12);
cloud('apcCloud', 1939, 233, 25, 13, 10);
cloud('arrbCloudB', 1910, 838, 42, 23, 14);
cloud('arrbCloudA', 1843, 849, 46, 23, 14);

const mem = document.getElementById('membrane');
for (let i = 0; i < 16; i++) {
  const x = 1762 + i * 21.2;
  const tail = mk(mem, 'path', {d: 'M' + (x - 3.5) + ',722V713Q' + (x - 3.5) + ',709 ' + x + ',709Q' + (x + 3.5) + ',709 ' + (x + 3.5) + ',713V722M' + (x - 3.5) + ',724V731Q' + (x - 3.5) + ',735 ' + x + ',735Q' + (x + 3.5) + ',735 ' + (x + 3.5) + ',731V724', fill: 'none', stroke: '#3f8f3f', 'stroke-width': 1.8});
  
  
  [[699, -2], [741, 2]].forEach(row => {
    const head = mk(mem, 'ellipse', {cx: x, cy: row[0], rx: 10.5, ry: 6.6, fill: '#128c12', stroke: '#0e5e0e', 'stroke-width': 0.8});
    
    
    const shine = mk(mem, 'ellipse', {cx: x + row[1], cy: row[0] + row[1] / 2, rx: 2.5, ry: 1.5, fill: '#dff5df'});
    
    
  });
}
</script>
</svg>
</body>
</html>
